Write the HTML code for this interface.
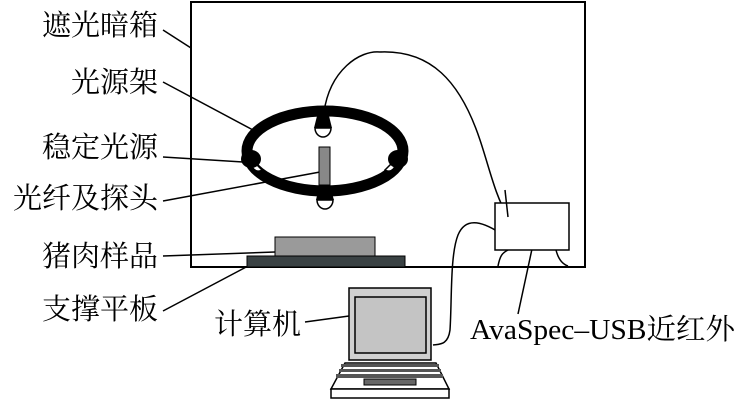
<!DOCTYPE html>
<html><head><meta charset="utf-8"><style>
html,body{margin:0;padding:0;background:#fff;width:738px;height:400px;overflow:hidden}
text{font-family:"Liberation Serif","Noto Serif CJK SC","Noto Sans CJK SC",serif;font-size:29px;fill:#000}
</style></head><body>
<svg width="738" height="400" viewBox="0 0 738 400" xmlns="http://www.w3.org/2000/svg">
<rect x="191" y="2" width="394" height="265" fill="none" stroke="#000" stroke-width="2"/>
<g text-anchor="end">
<text x="158" y="35">遮光暗箱</text>
<text x="158" y="92">光源架</text>
<text x="158" y="157">稳定光源</text>
<text x="158" y="208" font-size="30">光纤及探头</text>
<text x="158" y="266">猪肉样品</text>
<text x="158" y="319">支撑平板</text>
</g>
<text x="214" y="334">计算机</text>
<text x="470" y="339" font-size="27" textLength="265" lengthAdjust="spacingAndGlyphs">AvaSpec–USB近红外</text>
<g stroke="#000" stroke-width="1.5" fill="none">
<line x1="163" y1="30" x2="191" y2="48"/>
<line x1="163" y1="82" x2="253" y2="130"/>
<line x1="163" y1="157" x2="243" y2="162"/>
<line x1="163" y1="201" x2="320" y2="172"/>
<line x1="163" y1="256" x2="275" y2="252"/>
<line x1="163" y1="311" x2="250" y2="265"/>
<line x1="305" y1="322" x2="349" y2="316"/>
<line x1="518" y1="314" x2="535" y2="235"/>
<path d="M324,112 C330,70 360,50 380,52 C430,50 460,80 480,140 C490,170 495,195 508,217"/>
<path d="M500,233 C480,220 465,218 458,235 C450,255 452,300 450,330 C448,345 440,344 433,345"/>
<path d="M508,250 C502,253 500,256 498,266"/>
<path d="M556,250 C558,258 562,264 568,266"/>
</g>
<rect x="275" y="237" width="100" height="19" fill="#9a9a9a" stroke="#000" stroke-width="1"/>
<rect x="247" y="256" width="158" height="11" fill="#3a4244" stroke="#000" stroke-width="1"/>
<ellipse cx="325" cy="151" rx="78" ry="40" fill="none" stroke="#000" stroke-width="11"/>
<rect x="319" y="147" width="11" height="38" fill="#888" stroke="#000" stroke-width="1"/>
<g fill="#fff" stroke="#000" stroke-width="1.5">
<path d="M315,128 a8,9 0 0 0 16,0 z"/>
<path d="M317,200 a8,9 0 0 0 16,0 z"/>
<path d="M252,160 a7,8 0 0 0 10,10 z"/>
<path d="M395,160 a7,8 0 0 1 -10,10 z"/>
</g>
<g fill="#000">
<path d="M314,128 L318,112 L328,112 L332,128 z"/>
<path d="M316,200 L319,187 L330,187 L334,200 z"/>
<ellipse cx="251" cy="159" rx="10" ry="9"/>
<ellipse cx="398" cy="159" rx="10" ry="9"/>
</g>
<rect x="495" y="203" width="74" height="47" fill="#fff" stroke="#000" stroke-width="1.5"/>
<line x1="505" y1="190" x2="508" y2="217" stroke="#000" stroke-width="1.5"/>
<rect x="349" y="288" width="82" height="72" fill="#d0d0d0" stroke="#000" stroke-width="1.5"/>
<rect x="355" y="297" width="71" height="56" fill="#c4c4c4" stroke="#000" stroke-width="1.5"/>
<path d="M345,363 L436,363 L449,389 L331,389 z" fill="#fff" stroke="#000" stroke-width="1.5"/>
<rect x="341" y="364" width="98" height="3" fill="#555"/>
<rect x="339" y="369" width="102" height="3" fill="#555"/>
<rect x="336" y="374" width="107" height="4" fill="#555"/>
<rect x="364" y="379" width="52" height="6" fill="#666" stroke="#000" stroke-width="1"/>
<rect x="331" y="389" width="118" height="9" fill="#fff" stroke="#000" stroke-width="1.5"/>
</svg>
</body></html>
